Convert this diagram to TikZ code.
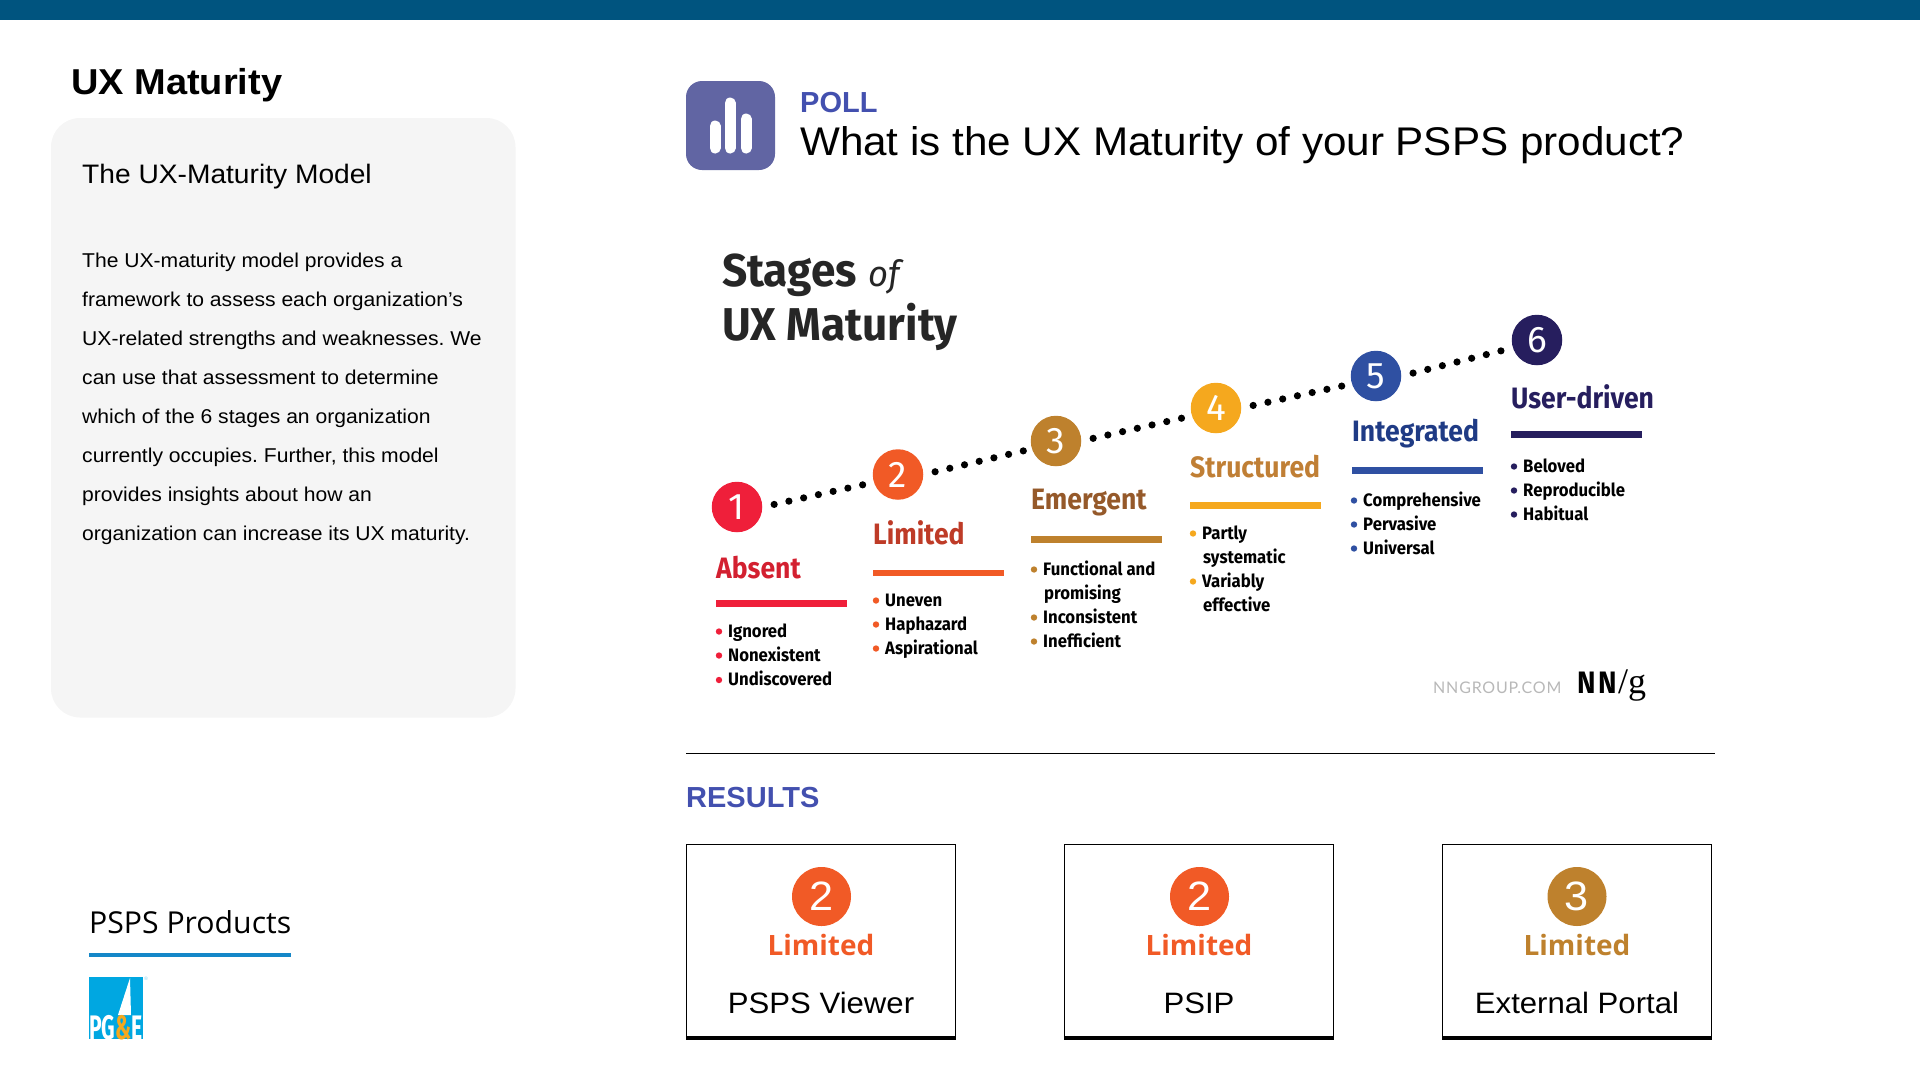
\documentclass[tikz,border=0pt]{standalone}
\usepackage{fontspec}
\setmainfont[FakeStretch=1.055]{Liberation Sans}
\newfontfamily\pollfont{Liberation Sans}
\newfontfamily\stagefont[FakeStretch=0.90]{Fira Sans}
\newfontfamily\itemfont[FakeStretch=0.93]{Fira Sans}
\newfontfamily\headfont[FakeStretch=0.96]{Fira Sans}
\newfontfamily\numfont{Fira Sans}
\newfontfamily\cardfont{Open Sans}
\newfontfamily\logofont[FakeStretch=0.62]{Fira Sans}
\newfontfamily\nngfont[LetterSpace=5]{Lato}
\newfontfamily\nnbold[FakeStretch=0.9,LetterSpace=8]{Fira Sans}
\newfontfamily\ngfont{Liberation Serif}
\usetikzlibrary{arrows,positioning}
\frenchspacing

\definecolor{topbar}{HTML}{00547F}
\definecolor{panelgray}{HTML}{F5F5F5}
\definecolor{pollblue}{HTML}{4350AF}
\definecolor{iconblue}{HTML}{6165A3}
\definecolor{ruleblue}{HTML}{1587C8}
\definecolor{logoblue}{HTML}{00A7E1}
\definecolor{absentc}{HTML}{EF1F3A}
\definecolor{limitedc}{HTML}{F15A26}
\definecolor{emergentc}{HTML}{BE812D}
\definecolor{structuredc}{HTML}{F5A81E}
\definecolor{integratedc}{HTML}{2F50A2}
\definecolor{driven}{HTML}{261E5E}
\definecolor{absentt}{HTML}{D32030}
\definecolor{limitedt}{HTML}{BE3B27}
\definecolor{emergentt}{HTML}{95592A}
\definecolor{structuredt}{HTML}{C07F35}
\definecolor{integratedt}{HTML}{1F3B85}

\newcommand{\fs}[1]{\fontsize{#1}{#1}\selectfont}
\newcommand{\stageitem}[5]{%
    \fill[#1] (#3-9,#4-5.5) circle (3.2);
    \node[itemtext] (#2) at (#3,#4) {#5};}

\tikzset{
    plain/.style={anchor=base west,inner sep=0pt},
    bodytext/.style={plain,font=\fs{20}},
    stagenum/.style={circle,minimum size=50.5pt,inner sep=0pt,text=white,font=\numfont\fs{37}},
    stagename/.style={plain,font=\stagefont\bfseries\fs{29.5}},
    stagebar/.style={anchor=north west,inner sep=0pt,minimum width=131pt,minimum height=6.5pt},
    itemtext/.style={plain,font=\itemfont\bfseries\fs{18},text=black},
    dotline/.style={line width=7.2pt,line cap=round,dash pattern=on 0pt off 15.1pt,shorten <=12pt,shorten >=6pt},
    cardbox/.style={draw,line width=1.2pt,minimum width=269pt,minimum height=193pt,inner sep=0pt},
    cardnum/.style={circle,minimum size=59pt,inner sep=0pt,text=white,font=\fs{41}},
    cardlabel/.style={anchor=base,inner sep=0pt,font=\cardfont\bfseries\fs{28}},
    cardname/.style={anchor=base,inner sep=0pt,font=\fs{29.5}},
}

\begin{document}
\begin{tikzpicture}[x=1pt,y=-1pt,node distance=160pt]
    \useasboundingbox (0,0) rectangle (1920,1080);

    \fill[topbar] (0,0) rectangle (1920,20);

    % left column
    \node[plain,font=\bfseries\fs{36}] (title) at (71,94) {UX Maturity};
    \fill[panelgray,rounded corners=29pt] (51,118) rectangle (515.5,717.5);
    \node[plain,font=\fs{26.7}] (model) at (82,183) {The UX-Maturity Model};
    \node[bodytext] (line1) at (82,267) {The UX-maturity model provides a};
    \node[bodytext] (line2) at (82,306) {framework to assess each organization’s};
    \node[bodytext] (line3) at (82,345) {UX-related strengths and weaknesses. We};
    \node[bodytext] (line4) at (82,384) {can use that assessment to determine};
    \node[bodytext] (line5) at (82,423) {which of the 6 stages an organization};
    \node[bodytext] (line6) at (82,462) {currently occupies. Further, this model};
    \node[bodytext] (line7) at (82,501) {provides insights about how an};
    \node[bodytext] (line8) at (82,540) {organization can increase its UX maturity.};

    \node[plain,font=\cardfont\fs{30.2}] (products) at (89,933) {PSPS Products};
    \fill[ruleblue] (89,953) rectangle (291,957);

    % logo
    \fill[logoblue] (89,977) rectangle (143,1039);
    \fill[white] (130,978) -- (131,1015) -- (118,1015) -- cycle;
    \node[anchor=base,inner sep=0pt,text=white,font=\logofont\bfseries\fs{34}] (logo) at (116,1039)
        {PG\textcolor{structuredc}{\&}E};
    \node[inner sep=0pt,text=logoblue!50,font=\fs{5}] (logor) at (146,979) {®};

    % poll header
    \fill[iconblue,rounded corners=16pt] (686,81) rectangle (775,170);
    \draw[white,line width=11pt,line cap=round] (715,126) -- (715,148);
    \draw[white,line width=11pt,line cap=round] (730,103) -- (730,148);
    \draw[white,line width=11pt,line cap=round] (746,119) -- (746,148);
    \node[plain,text=pollblue,font=\pollfont\bfseries\fs{29}] (poll) at (800,112) {POLL};
    \node[plain,font=\fs{40}] (question) at (800,155) {What is the UX Maturity of your PSPS product?};

    % stages
    \node[plain,text=black!85,font=\headfont\bfseries\fs{46}] (stages) at (722,286)
        {Stages\hspace{-8pt} {\mdseries\itshape\fs{36} of}};
    \node[plain,text=black!85,font=\headfont\bfseries\fs{46}] (uxm) at (722,340) {UX Maturity};

    \node[stagenum,fill=absentc] (c1) at (737,507) {1};
    \node[stagenum,fill=limitedc] (c2) [right of=c1,xshift=1pt,yshift=32.5pt] {2};
    \node[stagenum,fill=emergentc] (c3) [right of=c2,xshift=-2pt,yshift=33.5pt] {3};
    \node[stagenum,fill=structuredc] (c4) [right of=c3,yshift=33pt] {4};
    \node[stagenum,fill=integratedc] (c5) [right of=c4,yshift=32pt] {5};
    \node[stagenum,fill=driven] (c6) [right of=c5,xshift=1pt,yshift=36pt] {6};

    \path (c1.east) edge[dotline] (c2.198);
    \path (c2.east) edge[dotline] (c3.198);
    \path (c3.east) edge[dotline] (c4.198);
    \path (c4.east) edge[dotline] (c5.198);
    \path (c5.east) edge[dotline] (c6.198);

    \node[stagename,text=absentt] (n1) at (716,578) {Absent};
    \node[stagename,text=limitedt] (n2) at (873,544) {Limited};
    \node[stagename,text=emergentt] (n3) at (1031,509) {Emergent};
    \node[stagename,text=structuredt] (n4) at (1190,477) {Structured};
    \node[stagename,text=integratedt] (n5) at (1352,441) {Integrated};
    \node[stagename,text=driven] (n6) at (1511,408) {User-driven};

    \node[stagebar,fill=absentc] (b1) at (716,600) {};
    \node[stagebar,fill=limitedc] (b2) at (873,569.5) {};
    \node[stagebar,fill=emergentc] (b3) at (1031,536) {};
    \node[stagebar,fill=structuredc] (b4) at (1190,502) {};
    \node[stagebar,fill=integratedc] (b5) at (1352,467) {};
    \node[stagebar,fill=driven] (b6) at (1511,431) {};

    \stageitem{absentc}{a1}{728}{637}{Ignored}
    \stageitem{absentc}{a2}{728}{661}{Nonexistent}
    \stageitem{absentc}{a3}{728}{685.5}{Undiscovered}
    \stageitem{limitedc}{l1}{885}{606}{Uneven}
    \stageitem{limitedc}{l2}{885}{630}{Haphazard}
    \stageitem{limitedc}{l3}{885}{654}{Aspirational}
    \stageitem{emergentc}{e1}{1043}{575}{Functional and}
    \node[itemtext] (e1b) at (1044,599) {promising};
    \stageitem{emergentc}{e2}{1043}{623}{Inconsistent}
    \stageitem{emergentc}{e3}{1043}{647}{Inefficient}
    \stageitem{structuredc}{s1}{1202}{539}{Partly}
    \node[itemtext] (s1b) at (1203,563) {systematic};
    \stageitem{structuredc}{s2}{1202}{587}{Variably}
    \node[itemtext] (s2b) at (1203,611) {effective};
    \stageitem{integratedc}{i1}{1363}{506}{Comprehensive}
    \stageitem{integratedc}{i2}{1363}{530}{Pervasive}
    \stageitem{integratedc}{i3}{1363}{554}{Universal}
    \stageitem{driven}{u1}{1523}{472}{Beloved}
    \stageitem{driven}{u2}{1523}{496}{Reproducible}
    \stageitem{driven}{u3}{1523}{520}{Habitual}

    \node[plain,text=black!28,font=\nngfont\fs{16}] (site) at (1433,693) {NNGROUP.COM};
    \node[plain,font=\nnbold\bfseries\fs{31}] (nn) at (1577,693) {NN};
    \node[plain,font=\ngfont\fs{36}] (ng) [right=1pt of nn.base east,anchor=base west] {/g};

    % results
    \draw[line width=1.2pt] (686,753.5) -- (1715,753.5);
    \node[plain,text=pollblue,font=\pollfont\bfseries\fs{29}] (results) at (686,807) {RESULTS};

    \node[cardbox] (box1) at (821,941) {};
    \node[cardbox,node distance=378pt] (box2) [right of=box1] {};
    \node[cardbox,node distance=378pt] (box3) [right of=box2] {};
    \draw[line width=3.6pt] (box1.south west) -- (box1.south east);
    \draw[line width=3.6pt] (box2.south west) -- (box2.south east);
    \draw[line width=3.6pt] (box3.south west) -- (box3.south east);

    \node[cardnum,fill=limitedc] (p1) at (821.5,896.5) {2};
    \node[cardnum,fill=limitedc] (p2) at (1199.5,896.5) {2};
    \node[cardnum,fill=emergentc] (p3) at (1577,896.5) {3};

    \node[cardlabel,text=limitedc] (q1) at (821,955) {Limited};
    \node[cardlabel,text=limitedc] (q2) at (1199,955) {Limited};
    \node[cardlabel,text=emergentc] (q3) at (1577,955) {Limited};

    \node[cardname] (r1) at (821,1013) {PSPS Viewer};
    \node[cardname] (r2) at (1199,1013) {PSIP};
    \node[cardname] (r3) at (1577,1013) {External Portal};

\end{tikzpicture}
\end{document}
